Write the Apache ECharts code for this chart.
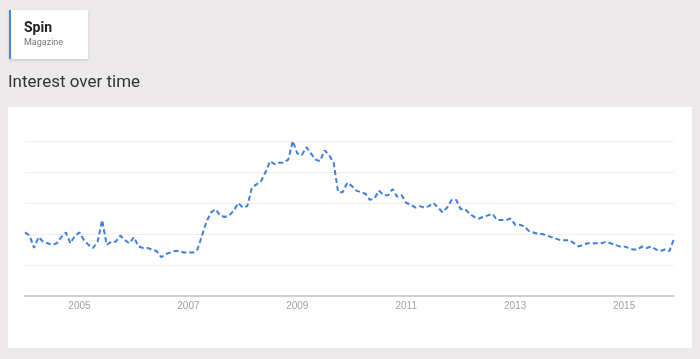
<!DOCTYPE html>
<html>
<head>
<meta charset="utf-8">
<script src="https://cdn.jsdelivr.net/npm/echarts@6/dist/echarts.min.js"></script>
<style>
  html, body { margin: 0; padding: 0; background: #eceaea; }
  #box { width: 700px; height: 359px; }
</style>
</head>
<body>
<div id="box"></div>
<script>
// monthly, Jan 2004 - Dec 2015
var months = []
for (var y = 2004; y <= 2015; y++) {
    for (var m = 1; m <= 12; m++) {
        months.push(y + '-' + (m < 10 ? '0' + m : m))
    }
}

var interest = [
    41, 39, 31, 38, 35, 34, 33, 34, 38, 41, 34, 39,
    41, 36, 33, 31, 35, 49, 33, 35, 35, 39, 36, 34,
    38, 32, 31, 31, 30, 29, 25, 27, 28, 29, 29, 28,
    28, 28, 30, 39, 48, 54, 56, 52, 51, 52, 55, 60,
    57, 58, 70, 72, 74, 80, 87, 85, 86, 86, 88, 100,
    92, 91, 96, 92, 88, 87, 94, 91, 86, 67, 67, 73,
    71, 68, 67, 66, 62, 63, 68, 65, 65, 69, 64, 65,
    60, 59, 57, 58, 57, 58, 60, 57, 54, 57, 62, 62,
    56, 56, 53, 51, 50, 51, 52, 53, 49, 49, 49, 50,
    46, 46, 45, 42, 41, 40, 40, 39, 38, 37, 36, 36,
    36, 34, 32, 33, 34, 34, 34, 34, 35, 34, 33, 32,
    32, 31, 30, 30, 32, 31, 32, 30, 29, 30, 29, 37
]

var yearLabels = ['2005', '2007', '2009', '2011', '2013', '2015']

var box = document.getElementById('box')
var chart = echarts.init(box)

var option = {
    backgroundColor: '#eceaea',
    animation: false,
    graphic: [
        // white panel
        {
            type: 'rect',
            shape: { x: 8, y: 107, width: 684, height: 241 },
            style: { fill: '#ffffff' },
            z: -10
        },
        // term card
        {
            type: 'rect',
            shape: { x: 9, y: 10, width: 79, height: 49 },
            style: {
                fill: '#ffffff',
                shadowBlur: 3,
                shadowColor: 'rgba(0,0,0,0.15)',
                shadowOffsetY: 1
            }
        },
        {
            type: 'rect',
            shape: { x: 9, y: 10, width: 2, height: 49 },
            style: { fill: '#4285f4' }
        },
        {
            type: 'text',
            left: 24,
            top: 21,
            style: {
                text: 'Spin',
                font: 'bold 14px Roboto',
                fill: '#222222'
            }
        },
        {
            type: 'text',
            left: 24,
            top: 38,
            style: {
                text: 'Magazine',
                font: '9px Roboto',
                fill: '#777777'
            }
        },
        {
            type: 'text',
            left: 8,
            top: 74,
            style: {
                text: 'Interest over time',
                font: '17px Roboto',
                fill: '#333333'
            }
        }
    ],
    grid: {
        left: 25,
        right: 26,
        top: 141,
        bottom: 63
    },
    xAxis: {
        type: 'category',
        data: months,
        boundaryGap: false,
        axisLine: { show: true, lineStyle: { color: '#d0d0d0', width: 2 } },
        axisTick: { show: false },
        axisLabel: {
            color: '#a0a0a0',
            fontSize: 10,
            fontFamily: 'Liberation Sans Narrow, Arial',
            margin: 5,
            interval: function (idx, val) {
                return val.slice(5) === '01' && yearLabels.indexOf(val.slice(0, 4)) >= 0
            },
            formatter: function (val) {
                return val.slice(0, 4)
            }
        },
        splitLine: { show: false }
    },
    yAxis: {
        type: 'value',
        min: 0,
        max: 100,
        interval: 20,
        axisLine: { show: false },
        axisTick: { show: false },
        axisLabel: { show: false },
        splitLine: { lineStyle: { color: '#efefef', width: 1 } }
    },
    series: [{
        name: 'Spin',
        type: 'line',
        data: interest,
        showSymbol: false,
        smooth: false,
        lineStyle: {
            color: '#3f7fe0',
            width: 2,
            type: [5, 3]
        }
    }]
}

chart.setOption(option)
</script>
</body>
</html>
